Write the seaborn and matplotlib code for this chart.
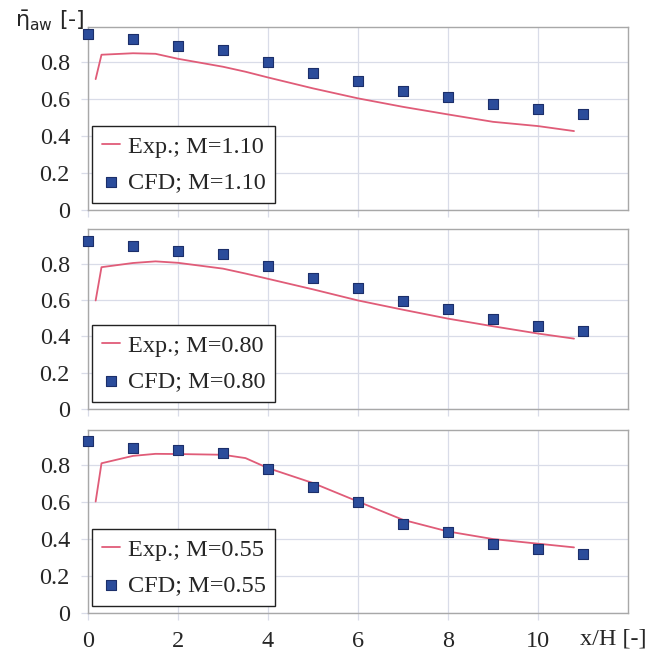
import numpy as np
import pandas as pd
import matplotlib
matplotlib.use("Agg")
import matplotlib.pyplot as plt
import seaborn as sns

# CFD samples at integer x/H
x_cfd = [0, 1, 2, 3, 4, 5, 6, 7, 8, 9, 10, 11]
cfd_110 = [0.950, 0.923, 0.886, 0.865, 0.798, 0.742, 0.699, 0.643, 0.612, 0.571, 0.546, 0.520]
cfd_080 = [0.926, 0.895, 0.871, 0.855, 0.789, 0.722, 0.667, 0.594, 0.552, 0.493, 0.458, 0.429]
cfd_055 = [0.931, 0.892, 0.883, 0.868, 0.780, 0.684, 0.598, 0.483, 0.436, 0.375, 0.346, 0.317]

# Experimental laterally averaged effectiveness
x_exp = [0.17, 0.3, 1.0, 1.5, 2.0, 3.0, 3.5, 4.0, 5.0, 6.0, 7.0, 8.0, 9.0, 10.0, 10.8]
exp_110 = [0.708, 0.840, 0.848, 0.845, 0.818, 0.775, 0.748, 0.717, 0.658, 0.604, 0.558, 0.517, 0.477, 0.454, 0.427]
exp_080 = [0.597, 0.780, 0.803, 0.812, 0.804, 0.772, 0.745, 0.716, 0.658, 0.597, 0.546, 0.497, 0.455, 0.415, 0.387]
exp_055 = [0.603, 0.810, 0.850, 0.861, 0.860, 0.856, 0.838, 0.784, 0.703, 0.603, 0.504, 0.441, 0.400, 0.375, 0.355]

blowing = ["1.10", "0.80", "0.55"]
x_ticks = [0, 2, 4, 6, 8, 10]
y_ticks = [0, 0.2, 0.4, 0.6, 0.8]
y_tick_labels = ["0", "0.2", "0.4", "0.6", "0.8"]

sns.set_theme(style="whitegrid")
plt.rcParams["font.family"] = ["Liberation Serif", "DejaVu Serif"]
plt.rcParams["mathtext.fontset"] = "dejavusans"

LINE_C = "#E05C78"
MARK_C = "#2B4C9B"
MARK_E = "#1C2F6A"
GRID_C = "#D9DCE8"
SPINE_C = "#A8A8A8"
FS = 17.5

W, H = 658, 665
fig = plt.figure(figsize=(W / 100, H / 100), dpi=100)

# panel boxes in pixels: (top, bottom)
boxes = [(27, 210), (229, 409), (430, 613)]
left_px, right_px = 88, 628

exp_sets = [exp_110, exp_080, exp_055]
cfd_sets = [cfd_110, cfd_080, cfd_055]

for i, ((top, bot), m) in enumerate(zip(boxes, blowing)):
    ax = fig.add_axes([left_px / W, (H - bot) / H,
                       (right_px - left_px) / W, (bot - top) / H])
    df_exp = pd.DataFrame({"x": x_exp, "eta": exp_sets[i]})
    df_cfd = pd.DataFrame({"x": x_cfd, "eta": cfd_sets[i]})
    sns.lineplot(data=df_exp, x="x", y="eta", ax=ax, color=LINE_C, lw=1.3,
                 label=f"Exp.; M={m}")
    sns.scatterplot(data=df_cfd, x="x", y="eta", ax=ax, marker="s", s=55,
                    color=MARK_C, edgecolor=MARK_E, linewidth=0.8,
                    label=f"CFD; M={m}", clip_on=False, zorder=5)
    ax.set_xlim(0, 12)
    ax.set_ylim(0, 0.99)
    ax.set_xticks(x_ticks)
    ax.set_yticks(y_ticks)
    ax.set_yticklabels(y_tick_labels, fontsize=FS)
    if i == 2:
        ax.set_xticklabels([str(t) for t in x_ticks], fontsize=FS)
    else:
        ax.set_xticklabels([])
    ax.set_xlabel("")
    ax.set_ylabel("")
    ax.grid(True, color=GRID_C, lw=0.9)
    ax.tick_params(axis="both", which="major", length=5, width=0.9,
                   color=GRID_C, direction="out", pad=8,
                   bottom=True, left=True)
    for sp in ax.spines.values():
        sp.set_color(SPINE_C)
        sp.set_linewidth(1.0)
    leg = ax.legend(loc="lower left", bbox_to_anchor=(0.008, 0.04),
                    fontsize=FS, frameon=True, fancybox=False,
                    edgecolor="#222222", framealpha=1, handlelength=0.75,
                    handletextpad=0.3, borderpad=0.4, labelspacing=0.55,
                    borderaxespad=0, markerscale=0.9)
    leg.get_frame().set_linewidth(1.0)

fig.text(15 / W, 1 - 21 / H, r"$\bar{\mathrm{\eta}}_{\mathrm{aw}}$ [-]",
         fontsize=16, family="DejaVu Sans", ha="left", va="center")
fig.text(613 / W, 1 - 639 / H, "x/H [-]", fontsize=FS,
         ha="center", va="center")

fig.savefig("out.png", dpi=100, facecolor="white")
